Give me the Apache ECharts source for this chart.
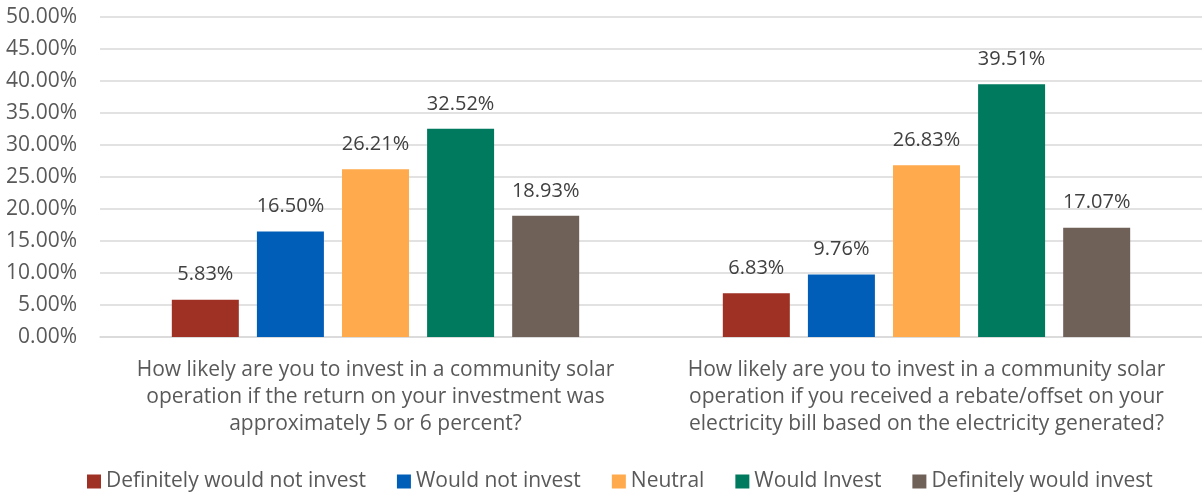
<!DOCTYPE html>
<html>
<head>
<meta charset="utf-8">
<script src="https://cdn.jsdelivr.net/npm/echarts@6/dist/echarts.min.js"></script>
<style>
  html, body { margin: 0; padding: 0; background: #fff; }
  #chart { width: 1202px; height: 493px; }
</style>
</head>
<body>
<div id="chart"></div>
<script>
// Survey questions (x-axis categories)
const categories = [
  'How likely are you to invest in a community solar\noperation if the return on your investment was\napproximately 5 or 6 percent?',
  'How likely are you to invest in a community solar\noperation if you received a rebate/offset on your\nelectricity bill based on the electricity generated?'
];

// Response shares, in percent
const seriesNames = ['Definitely would not invest', 'Would not invest', 'Neutral', 'Would Invest', 'Definitely would invest'];
const definitelyNot = [5.83, 6.83];
const wouldNot = [16.50, 9.76];
const neutral = [26.21, 26.83];
const wouldInvest = [32.52, 39.51];
const definitelyWould = [18.93, 17.07];

const colors = ['#9E3024', '#005EB8', '#FFAA4D', '#007A5E', '#6F6058'];
const values = [definitelyNot, wouldNot, neutral, wouldInvest, definitelyWould];

const FONT = '"Open Sans", "Noto Sans", sans-serif';

const chart = echarts.init(document.getElementById('chart'));
chart.setOption({
  animation: false,
  textStyle: { fontFamily: FONT },
  grid: { left: 100, right: -9, top: 17, bottom: 156 },
  legend: {
    top: 466,
    left: 82,
    itemWidth: 14,
    itemHeight: 14,
    itemGap: 31,
    icon: 'rect',
    textStyle: { fontFamily: FONT, fontSize: 21, color: '#595959' },
    data: seriesNames
  },
  xAxis: {
    type: 'category',
    data: categories,
    axisLine: { show: true, lineStyle: { color: '#d9d9d9', width: 1.5 } },
    axisTick: { show: false },
    axisLabel: {
      fontFamily: FONT, fontSize: 21, color: '#595959',
      lineHeight: 27, margin: 20, interval: 0
    }
  },
  yAxis: {
    type: 'value',
    min: 0, max: 50, interval: 5,
    axisLine: { show: false },
    axisTick: { show: false },
    splitLine: { lineStyle: { color: '#d9d9d9', width: 1.5 } },
    axisLabel: {
      fontFamily: FONT, fontSize: 21, color: '#595959', margin: 23,
      formatter: v => v.toFixed(2) + '%'
    }
  },
  series: seriesNames.map((name, i) => ({
    name,
    type: 'bar',
    data: values[i],
    barWidth: 67,
    barGap: '27%',
    itemStyle: { color: colors[i] },
    label: {
      show: true,
      position: 'top',
      distance: 15,
      fontFamily: FONT,
      fontSize: 20,
      color: '#404040',
      formatter: p => p.value.toFixed(2) + '%'
    }
  }))
});
</script>
</body>
</html>
